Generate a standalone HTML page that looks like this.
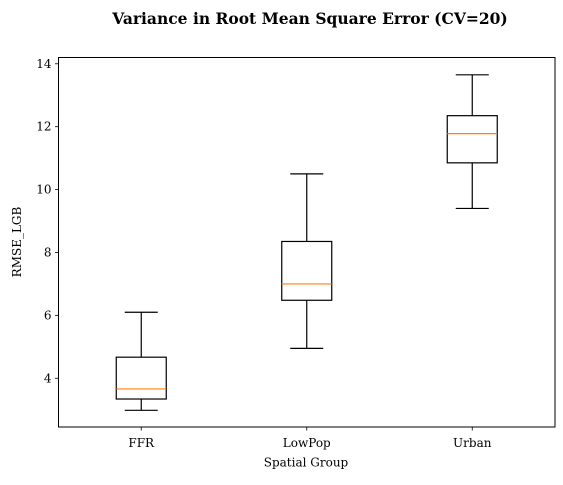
<!DOCTYPE html>
<html><head><meta charset="utf-8"><style>
body{margin:0;background:#fff;}
svg text{font-family:"DejaVu Serif","Liberation Serif",serif;fill:#000;}
</style></head><body>
<svg id="chart" width="563" height="480">
<text x="310" y="24" text-anchor="middle" font-size="15.5" font-weight="bold">Variance in Root Mean Square Error (CV=20)</text>
<g id="plot"></g>
<text x="306" y="466.5" text-anchor="middle" font-size="12">Spatial Group</text>
<text transform="translate(21,242) rotate(-90)" text-anchor="middle" font-size="12">RMSE_LGB</text>
</svg>
<script>
const categories=["FFR","LowPop","Urban"];
const whiskerLow=[2.98,4.95,9.4];
const q1=[3.34,6.48,10.85];
const medians=[3.66,7.0,11.78];
const q3=[4.67,8.35,12.35];
const whiskerHigh=[6.1,10.5,13.65];
const yTicks=[4,6,8,10,12,14];
const L=58.5,R=555,T=57.5,B=427,ymin=2.45,ymax=14.2;
const ns="http://www.w3.org/2000/svg";
const g=document.getElementById('plot');
function y(v){return B-(v-ymin)/(ymax-ymin)*(B-T);}
function x(i){return L+(i+0.5)/categories.length*(R-L);}
function mk(tag,attrs,parent){const e=document.createElementNS(ns,tag);for(const k in attrs)e.setAttribute(k,attrs[k]);(parent||g).appendChild(e);return e;}
yTicks.forEach(t=>{
 const tk=mk('line',{x1:L-3.5,x2:L,y1:y(t),y2:y(t),stroke:'#000','stroke-width':0.8});
 
 
 const lb=mk('text',{x:L-7,y:y(t)+4,'text-anchor':'end','font-size':12});
 lb.textContent=t;
 
 
});
categories.forEach((c,i)=>{
 const cx=x(i),bw=50,cw=33;
 const grp=mk('g',{});
 
 
 mk('line',{x1:cx,x2:cx,y1:y(whiskerHigh[i]),y2:y(q3[i]),stroke:'#000','stroke-width':1.2},grp);
 mk('line',{x1:cx,x2:cx,y1:y(q1[i]),y2:y(whiskerLow[i]),stroke:'#000','stroke-width':1.2},grp);
 mk('line',{x1:cx-cw/2,x2:cx+cw/2,y1:y(whiskerHigh[i]),y2:y(whiskerHigh[i]),stroke:'#000','stroke-width':1.2},grp);
 mk('line',{x1:cx-cw/2,x2:cx+cw/2,y1:y(whiskerLow[i]),y2:y(whiskerLow[i]),stroke:'#000','stroke-width':1.2},grp);
 mk('rect',{x:cx-bw/2,y:y(q3[i]),width:bw,height:y(q1[i])-y(q3[i]),fill:'none',stroke:'#000','stroke-width':1.2},grp);
 mk('line',{x1:cx-bw/2,x2:cx+bw/2,y1:y(medians[i]),y2:y(medians[i]),stroke:'#ff7f0e','stroke-width':1.2},grp);
 const tk=mk('line',{x1:cx,x2:cx,y1:B,y2:B+3.5,stroke:'#000','stroke-width':0.8});
 
 
 const lb=mk('text',{x:cx,y:B+20,'text-anchor':'middle','font-size':12});
 lb.textContent=c;
 
 
});
const fr=mk('rect',{x:L,y:T,width:R-L,height:B-T,fill:'none',stroke:'#000','stroke-width':1});


</script>
</body></html>
